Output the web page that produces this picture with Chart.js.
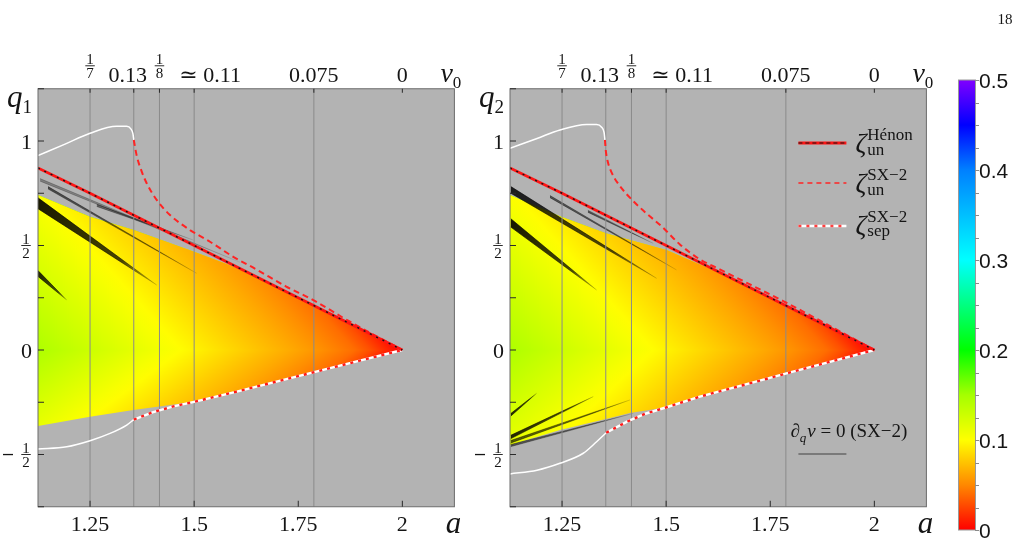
<!DOCTYPE html>
<html lang="en">
<head>
<meta charset="UTF-8">
<title>Stability map q1 / q2</title>
<script src="https://cdn.jsdelivr.net/npm/chart.js@4.4.1/dist/chart.umd.min.js"></script>
<style>
  body { margin: 0; background: #fff; }
  #wrap { position: relative; width: 1027px; height: 543px; }
  #wrap canvas { position: absolute; left: 0; top: 0; }
</style>
</head>
<body>
<div id="wrap">
  <canvas id="left" width="1027" height="543"></canvas>
  <canvas id="right" width="1027" height="543"></canvas>
  <canvas id="cbar" width="1027" height="543"></canvas>
</div>
<script>
// ---- axes ----
const aMin = 1.125, aMax = 2.125, qMin = -0.75, qMax = 1.25;
const aTicks = [1.25, 1.5, 1.75, 2];
const aTickLabels = ['1.25', '1.5', '1.75', '2'];
const nuTicks = [1.25, 1.355, 1.4167, 1.5, 1.7875, 2];
const nuTickLabels = ['1/7', '0.13', '1/8', '≃ 0.11', '0.075', '0'];
const gridA = [1.25, 1.355, 1.4167, 1.5, 1.7875];
const qTicks = [1.25, 1, 0.75, 0.5, 0.25, 0, -0.25, -0.5, -0.75];
const qTickLabels = ['', '1', '', '1/2', '', '0', '', '-1/2', ''];

// ---- colour bar ----
const cbarTicks = [0, 0.1, 0.2, 0.3, 0.4, 0.5];
const cbarLabels = ['0', '0.1', '0.2', '0.3', '0.4', '0.5'];
const cbarMinor = [0.025, 0.05, 0.075, 0.125, 0.15, 0.175, 0.225, 0.25, 0.275, 0.325, 0.35, 0.375, 0.425, 0.45, 0.475];
const cmapV = [0, 0.05, 0.1, 0.15, 0.2, 0.3, 0.4, 0.45, 0.5];
const cmapRGB = [[255,0,0],[255,136,0],[255,255,0],[165,255,0],[0,255,0],[0,255,255],[0,128,255],[0,0,255],[128,0,255]];

// shading: value along the wedge (t = 0 at the tip a=2, t = 1 at a=1.125, q=0)
const shadeT = [0, 0.114, 0.286, 0.571, 1, 1.3];
const shadeV = [0, 0.038, 0.062, 0.095, 0.145, 0.17];

// ---- curves shared by both panels ----
const henonA = [1.125, 1.25, 1.5, 1.75, 2];
const henonQ = [0.871, 0.75, 0.5, 0.25, 0];

// ---- left panel (q1) ----
const l1UnA = [1.355, 1.362, 1.370, 1.386, 1.410, 1.442, 1.490, 1.538, 1.594, 1.65, 1.72, 1.785, 1.87, 2];
const l1UnQ = [1.005, 0.93, 0.876, 0.798, 0.718, 0.646, 0.574, 0.518, 0.446, 0.385, 0.305, 0.24, 0.14, 0];
const l1CapA = [1.125, 1.19, 1.25, 1.314, 1.338, 1.348, 1.353, 1.355];
const l1CapQ = [0.93, 0.985, 1.037, 1.07, 1.07, 1.058, 1.035, 1.005];
const l1LowA = [1.125, 1.194, 1.25, 1.298, 1.338, 1.355];
const l1LowQ = [-0.474, -0.463, -0.434, -0.399, -0.359, -0.333];
const l1SepA = [1.355, 1.4, 1.45, 1.5, 1.6, 1.7, 1.8, 1.9, 2];
const l1SepQ = [-0.333, -0.298, -0.27, -0.248, -0.2, -0.15, -0.1, -0.05, 0];
const l1ShadeTopA = [1.125, 1.25, 1.355, 1.5, 1.58, 1.65, 2];
const l1ShadeTopQ = [0.742, 0.638, 0.574, 0.47, 0.41, 0.35, 0];
const l1ShadeBotA = [1.125, 1.25, 1.354, 1.5, 1.6, 1.7, 1.8, 1.9, 2];
const l1ShadeBotQ = [-0.364, -0.319, -0.287, -0.248, -0.2, -0.15, -0.1, -0.05, 0];
const l1StreakA = [1.125, 1.125, 1.149, 1.266, 1.13];
const l1StreakTopQ = [0.728, 0.38, 0.782, 0.697, 0.82];
const l1StreakBotQ = [0.676, 0.352, 0.771, 0.687, 0.808];
const l1StreakTipA = [1.41, 1.194, 1.506, 1.498, 1.61];
const l1StreakTipQ = [0.311, 0.239, 0.367, 0.526, 0.42];
const l1StreakK = [0.9, 0.85, 0.6, 0.45, 0.3];

// ---- right panel (q2) ----
const r2UnA = [1.353, 1.355, 1.36, 1.37, 1.385, 1.405, 1.445, 1.49, 1.533, 1.58, 1.63, 1.7, 1.78, 1.87, 2];
const r2UnQ = [1.005, 0.955, 0.9, 0.845, 0.795, 0.746, 0.667, 0.59, 0.505, 0.435, 0.385, 0.315, 0.235, 0.14, 0];
const r2CapA = [1.125, 1.19, 1.245, 1.309, 1.333, 1.345, 1.351, 1.353];
const r2CapQ = [0.965, 1.012, 1.053, 1.079, 1.079, 1.066, 1.04, 1.005];
const r2LowA = [1.125, 1.19, 1.245, 1.301, 1.333, 1.356];
const r2LowQ = [-0.593, -0.575, -0.542, -0.494, -0.439, -0.396];
const r2SepA = [1.356, 1.406, 1.45, 1.501, 1.581, 1.7, 1.8, 1.9, 2];
const r2SepQ = [-0.396, -0.343, -0.305, -0.274, -0.223, -0.16, -0.106, -0.053, 0];
const r2ShadeTopA = [1.125, 1.245, 1.357, 1.501, 1.58, 1.65, 2];
const r2ShadeTopQ = [0.742, 0.64, 0.558, 0.478, 0.41, 0.35, 0];
const r2ShadeBotA = [1.125, 1.245, 1.365, 1.413, 1.501, 1.581, 1.7, 1.8, 1.9, 2];
const r2ShadeBotQ = [-0.455, -0.383, -0.325, -0.301, -0.274, -0.223, -0.16, -0.106, -0.053, 0];
const r2StreakA = [1.127, 1.127, 1.221, 1.312, 1.127, 1.127, 1.127, 1.127];
const r2StreakTopQ = [0.628, 0.782, 0.739, 0.668, -0.304, -0.408, -0.433, -0.452];
const r2StreakBotQ = [0.588, 0.75, 0.729, 0.659, -0.316, -0.424, -0.445, -0.462];
const r2StreakTipA = [1.333, 1.477, 1.525, 1.469, 1.189, 1.325, 1.413, 1.421];
const r2StreakTipQ = [0.287, 0.343, 0.383, 0.51, -0.207, -0.223, -0.239, -0.303];
const r2StreakK = [0.9, 0.85, 0.55, 0.55, 0.85, 0.85, 0.65, 0.55];

const serif = '"Liberation Serif", "DejaVu Serif", serif';
const sans = '"Liberation Sans", Arial, sans-serif';

function interp(xs, ys, v) {
  if (v <= xs[0]) return ys[0];
  for (let i = 1; i < xs.length; i++) {
    if (v <= xs[i]) {
      const f = (v - xs[i - 1]) / (xs[i] - xs[i - 1]);
      return ys[i - 1] + f * (ys[i] - ys[i - 1]);
    }
  }
  return ys[ys.length - 1];
}

function cmap(v) {
  const c = [0, 1, 2].map(k => Math.round(interp(cmapV, cmapRGB.map(r => r[k]), v)));
  return `rgb(${c[0]},${c[1]},${c[2]})`;
}

function px(chart, a, q) {
  return [chart.scales.x.getPixelForValue(a), chart.scales.y.getPixelForValue(q)];
}

// linear gradient of the wedge colour, fixed by the tip, the left middle and one left corner
function shadeGradient(chart, cornerQ, cornerT) {
  if (!chart.chartArea) return 'rgba(0,0,0,0)';
  const [xa, ya] = px(chart, 2, 0);
  const [xm, ym] = px(chart, aMin, 0);
  const [xc, yc] = px(chart, aMin, cornerQ);
  const d1x = xm - xa, d1y = ym - ya, d2x = xc - xa, d2y = yc - ya;
  const det = d1x * d2y - d1y * d2x;
  const al = (d2y - cornerT * d1y) / det;
  const be = (d1x * cornerT - d2x) / det;
  const g2 = al * al + be * be;
  const T = shadeT[shadeT.length - 1];
  const grad = chart.ctx.createLinearGradient(xa, ya, xa + al * T / g2, ya + be * T / g2);
  for (let i = 0; i <= 30; i++) {
    grad.addColorStop(i / 30, cmap(interp(shadeT, shadeV, T * i / 30)));
  }
  return grad;
}

function streakGradient(chart, p, i) {
  if (!chart.chartArea) return 'rgba(0,0,0,0)';
  const [x0, y0] = px(chart, p.sA[i], (p.sTop[i] + p.sBot[i]) / 2);
  const [x1, y1] = px(chart, p.sTipA[i], p.sTipQ[i]);
  const g = chart.ctx.createLinearGradient(x0, y0, x1, y1);
  const k = p.sK[i];
  g.addColorStop(0, `rgba(0,0,0,${k})`);
  g.addColorStop(0.7, `rgba(0,0,0,${k * 0.8})`);
  g.addColorStop(1, `rgba(0,0,0,${k * 0.15})`);
  return g;
}

const pts = (A, Q) => A.map((a, i) => ({ x: a, y: Q[i] }));

function panelDatasets(p) {
  const ds = [];
  const none = 'rgba(0,0,0,0)';
  ds.push({ data: pts(p.botA, p.botQ), fill: 1, borderWidth: 0, borderColor: none,
    backgroundColor: c => shadeGradient(c.chart, p.botQ[0], 0.72), order: 40 });
  ds.push({ data: pts(p.topA, p.topQ), fill: 'origin', borderWidth: 0, borderColor: none,
    backgroundColor: c => shadeGradient(c.chart, p.topQ[0], 0.62), order: 39 });
  p.sA.forEach((a0, i) => {
    const idx = ds.length;
    ds.push({ data: [{ x: a0, y: p.sTop[i] }, { x: p.sTipA[i], y: p.sTipQ[i] }], fill: idx + 1,
      borderWidth: 0.7, borderColor: c => streakGradient(c.chart, p, i),
      backgroundColor: c => streakGradient(c.chart, p, i), order: 30 });
    ds.push({ data: [{ x: a0, y: p.sBot[i] }, { x: p.sTipA[i], y: p.sTipQ[i] }], fill: false,
      borderWidth: 0.7, borderColor: c => streakGradient(c.chart, p, i), order: 30 });
  });
  gridA.forEach(a => ds.push({ data: [{ x: a, y: qMin }, { x: a, y: qMax }],
    borderColor: '#8a8a8a', borderWidth: 1, order: 20 }));
  ds.push({ data: pts(p.capA, p.capQ), borderColor: '#ffffff', borderWidth: 1.5,
    cubicInterpolationMode: 'monotone', order: 6 });
  ds.push({ data: pts(p.lowA, p.lowQ), borderColor: '#ffffff', borderWidth: 1.5,
    cubicInterpolationMode: 'monotone', order: 6 });
  ds.push({ data: pts(p.unA, p.unQ), borderColor: '#ff2424', borderWidth: 2, borderDash: [6, 4],
    cubicInterpolationMode: 'monotone', order: 5 });
  ds.push({ data: pts(henonA, henonQ), borderColor: '#ff1414', borderWidth: 2.6, order: 4 });
  ds.push({ data: pts(henonA, henonQ), borderColor: '#141414', borderWidth: 1.4, borderDash: [2, 5], order: 3 });
  ds.push({ data: pts(p.sepA, p.sepQ), borderColor: '#ffffff', borderWidth: 2.4, order: 4 });
  ds.push({ data: pts(p.sepA, p.sepQ), borderColor: '#ff1a1a', borderWidth: 2.4, borderDash: [3, 5], order: 3 });
  return ds;
}

function txt(ctx, s, x, y, size, o = {}) {
  ctx.font = (o.italic ? 'italic ' : '') + size + 'px ' + (o.sans ? sans : serif);
  ctx.textAlign = o.align || 'left';
  ctx.textBaseline = 'alphabetic';
  ctx.fillStyle = o.color || '#151515';
  ctx.fillText(s, x, y);
  return ctx.measureText(s).width;
}

function frac(ctx, num, den, cx, barY, size) {
  txt(ctx, num, cx, barY - 2, size, { align: 'center' });
  txt(ctx, den, cx, barY + size * 0.7 + 2, size, { align: 'center' });
  ctx.font = size + 'px ' + serif;
  const w = Math.max(ctx.measureText(num).width, ctx.measureText(den).width) + 2;
  ctx.fillRect(cx - w / 2, barY - 0.4, w, 0.9);
}

const decor = {
  id: 'decor',
  beforeDraw(chart) {
    const { ctx, chartArea: r } = chart;
    ctx.save();
    ctx.fillStyle = '#b3b3b3';
    ctx.fillRect(r.left, r.top, r.right - r.left, r.bottom - r.top);
    ctx.restore();
  },
  afterDatasetsDraw(chart, args, o) {
    const { ctx, chartArea: r, scales: { x, y } } = chart;
    ctx.save();
    ctx.strokeStyle = '#6c6c6c';
    ctx.lineWidth = 1;
    ctx.strokeRect(r.left, r.top, r.right - r.left, r.bottom - r.top);
    ctx.strokeStyle = '#2a2a2a';
    ctx.beginPath();
    aTicks.forEach(a => { const X = x.getPixelForValue(a); ctx.moveTo(X, r.bottom); ctx.lineTo(X, r.bottom - 6); });
    nuTicks.forEach(a => { const X = x.getPixelForValue(a); ctx.moveTo(X, r.top); ctx.lineTo(X, r.top + 4); });
    qTicks.forEach(q => { const Y = y.getPixelForValue(q); ctx.moveTo(r.left, Y); ctx.lineTo(r.left + 6, Y); });
    ctx.stroke();

    // bottom a axis
    aTicks.forEach((a, i) => txt(ctx, aTickLabels[i], x.getPixelForValue(a), r.bottom + 24, 22, { align: 'center' }));
    txt(ctx, 'a', r.right - 1, r.bottom + 26, 31, { italic: true, align: 'center' });

    // top nu0 axis
    const nudge = { '0.13': -6, '≃ 0.11': 16 };
    nuTicks.forEach((a, i) => {
      const lab = nuTickLabels[i];
      const X = x.getPixelForValue(a) + (nudge[lab] || 0);
      if (lab.includes('/')) {
        const [n, d] = lab.split('/');
        frac(ctx, n, d, X, r.top - 23, 15);
      } else {
        txt(ctx, lab, X, r.top - 7, 22, { align: 'center' });
      }
    });
    const wNu = txt(ctx, 'ν', r.right - 14, r.top - 7, 28, { italic: true });
    txt(ctx, '0', r.right - 14 + wNu, r.top - 1, 17);

    // left q axis
    qTicks.forEach((q, i) => {
      const lab = qTickLabels[i];
      if (!lab) return;
      const Y = y.getPixelForValue(q);
      if (lab.includes('/')) {
        const neg = lab.startsWith('-');
        const [n, d] = lab.replace('-', '').split('/');
        const cx = r.left - 12;
        frac(ctx, n, d, cx, Y, 15);
        if (neg) { ctx.fillRect(cx - 23, Y - 0.6, 10, 1.3); }
      } else {
        txt(ctx, lab, r.left - 6, Y + 7.5, 22, { align: 'right' });
      }
    });
    const wq = txt(ctx, 'q', r.left - 31, r.top + 18, 31, { italic: true });
    txt(ctx, o.sub, r.left - 31 + wq, r.top + 24, 19);

    if (o.legend) {
      const x0 = r.right - 128, x1 = r.right - 80, xt = r.right - 71;
      // Hénon
      let Y = 143;
      ctx.setLineDash([]);
      ctx.strokeStyle = '#ff1414'; ctx.lineWidth = 3;
      ctx.beginPath(); ctx.moveTo(x0, Y); ctx.lineTo(x1, Y); ctx.stroke();
      ctx.setLineDash([4, 3]); ctx.strokeStyle = '#141414'; ctx.lineWidth = 1.2;
      ctx.beginPath(); ctx.moveTo(x0, Y); ctx.lineTo(x1, Y); ctx.stroke();
      let w = txt(ctx, 'ζ', xt, Y + 9, 27, { italic: true });
      txt(ctx, 'Hénon', xt + w + 1, Y - 3, 17);
      txt(ctx, 'un', xt + w + 1, Y + 12, 17);
      // SX-2 un
      Y = 183;
      ctx.setLineDash([5, 4]); ctx.strokeStyle = '#ff2424'; ctx.lineWidth = 1.5;
      ctx.beginPath(); ctx.moveTo(x0, Y); ctx.lineTo(x1, Y); ctx.stroke();
      w = txt(ctx, 'ζ', xt, Y + 9, 27, { italic: true });
      txt(ctx, 'SX−2', xt + w + 1, Y - 3, 17);
      txt(ctx, 'un', xt + w + 1, Y + 12, 17);
      // SX-2 sep
      Y = 226;
      ctx.setLineDash([]); ctx.strokeStyle = '#ffffff'; ctx.lineWidth = 2.5;
      ctx.beginPath(); ctx.moveTo(x0, Y); ctx.lineTo(x1, Y); ctx.stroke();
      ctx.setLineDash([3, 5]); ctx.strokeStyle = '#ff4040';
      ctx.beginPath(); ctx.moveTo(x0, Y); ctx.lineTo(x1, Y); ctx.stroke();
      w = txt(ctx, 'ζ', xt, Y + 8, 27, { italic: true });
      txt(ctx, 'SX−2', xt + w + 1, Y - 4, 17);
      txt(ctx, 'sep', xt + w + 1, Y + 10, 17);
      // d_q nu = 0
      ctx.setLineDash([]);
      let X = r.right - 136;
      X += txt(ctx, '∂', X, 437, 19);
      X += txt(ctx, 'q', X, 442, 13, { italic: true }) + 1;
      X += txt(ctx, 'ν', X, 437, 19, { italic: true });
      txt(ctx, ' = 0 (SX−2)', X, 437, 19);
      ctx.strokeStyle = '#7a7a7a'; ctx.lineWidth = 2;
      ctx.beginPath(); ctx.moveTo(x0, 454); ctx.lineTo(x1, 454); ctx.stroke();
    }
    ctx.restore();
  }
};

function panelConfig(p, padLeft, padRight, sub, legend) {
  return {
    type: 'line',
    data: { datasets: panelDatasets(p) },
    options: {
      responsive: false,
      animation: false,
      events: [],
      layout: { padding: { left: padLeft, right: padRight, top: 88.75, bottom: 36.25 } },
      scales: {
        x: { type: 'linear', min: aMin, max: aMax, display: false },
        y: { type: 'linear', min: qMin, max: qMax, display: false }
      },
      elements: { point: { radius: 0 }, line: { tension: 0 } },
      plugins: { legend: { display: false }, tooltip: { enabled: false }, decor: { sub, legend } }
    },
    plugins: [decor]
  };
}

const leftPanel = {
  unA: l1UnA, unQ: l1UnQ, capA: l1CapA, capQ: l1CapQ, lowA: l1LowA, lowQ: l1LowQ,
  sepA: l1SepA, sepQ: l1SepQ, topA: l1ShadeTopA, topQ: l1ShadeTopQ, botA: l1ShadeBotA, botQ: l1ShadeBotQ,
  sA: l1StreakA, sTop: l1StreakTopQ, sBot: l1StreakBotQ, sTipA: l1StreakTipA, sTipQ: l1StreakTipQ, sK: l1StreakK
};
const rightPanel = {
  unA: r2UnA, unQ: r2UnQ, capA: r2CapA, capQ: r2CapQ, lowA: r2LowA, lowQ: r2LowQ,
  sepA: r2SepA, sepQ: r2SepQ, topA: r2ShadeTopA, topQ: r2ShadeTopQ, botA: r2ShadeBotA, botQ: r2ShadeBotQ,
  sA: r2StreakA, sTop: r2StreakTopQ, sBot: r2StreakBotQ, sTipA: r2StreakTipA, sTipQ: r2StreakTipQ, sK: r2StreakK
};

new Chart(document.getElementById('left'), panelConfig(leftPanel, 38, 1027 - 454.4, '1', false));
new Chart(document.getElementById('right'), panelConfig(rightPanel, 510, 1027 - 926.4, '2', true));

// colour bar
const cbarDecor = {
  id: 'cbarDecor',
  afterDatasetsDraw(chart) {
    const { ctx, chartArea: r, scales: { y } } = chart;
    ctx.save();
    ctx.strokeStyle = '#9a9a9a';
    ctx.lineWidth = 1;
    ctx.strokeRect(r.left - 0.5, r.top, r.right - r.left + 1, r.bottom - r.top);
    ctx.strokeStyle = '#8a8a8a';
    ctx.beginPath();
    cbarMinor.concat(cbarTicks).forEach(v => {
      const Y = Math.round(y.getPixelForValue(v)) + 0.5;
      ctx.moveTo(r.right, Y); ctx.lineTo(r.right + 4, Y);
    });
    ctx.stroke();
    cbarTicks.forEach((v, i) => txt(ctx, cbarLabels[i], r.right + 4, y.getPixelForValue(v) + 7.5, 21, { sans: true }));
    txt(ctx, '18', 1005, 24, 15, { align: 'center' });
    ctx.restore();
  }
};

new Chart(document.getElementById('cbar'), {
  type: 'bar',
  data: {
    labels: [''],
    datasets: [{
      data: [cbarTicks[cbarTicks.length - 1]],
      borderWidth: 0,
      barPercentage: 1,
      categoryPercentage: 1,
      backgroundColor: c => {
        const chart = c.chart;
        if (!chart.chartArea) return 'rgba(0,0,0,0)';
        const y = chart.scales.y;
        const g = chart.ctx.createLinearGradient(0, y.getPixelForValue(0), 0, y.getPixelForValue(0.5));
        cmapV.forEach((v, i) => g.addColorStop(v / 0.5, cmap(v)));
        return g;
      }
    }]
  },
  options: {
    responsive: false,
    animation: false,
    events: [],
    layout: { padding: { left: 959, right: 52, top: 80, bottom: 13 } },
    scales: { x: { display: false }, y: { display: false, min: 0, max: 0.5 } },
    plugins: { legend: { display: false }, tooltip: { enabled: false } }
  },
  plugins: [cbarDecor]
});
</script>
</body>
</html>
